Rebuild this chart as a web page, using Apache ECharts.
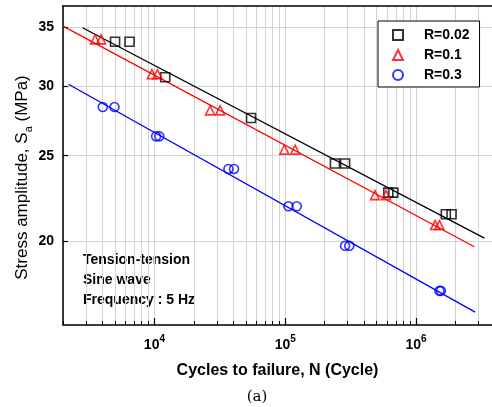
<!DOCTYPE html>
<html>
<head>
<meta charset="utf-8">
<script src="https://cdn.jsdelivr.net/npm/echarts@6/dist/echarts.min.js"></script>
<style>
  html, body { margin: 0; padding: 0; background: #fff; }
  #chart { width: 492px; height: 407px; }
</style>
</head>
<body>
<div id="chart"></div>
<script>
  // measured points: [cycles to failure, stress amplitude (MPa)]
  const r002 = [[5000, 33.7], [6450, 33.7], [12100, 30.7], [54800, 27.6], [240000, 24.5], [287000, 24.5],
    [614000, 22.7], [671000, 22.7], [1690000, 21.45], [1870000, 21.45]]
  const r01 = [[3520, 33.9], [3910, 33.9], [9550, 30.95], [10540, 30.95], [26650, 28.15], [31800, 28.15],
    [98500, 25.4], [119000, 25.4], [486000, 22.55], [590000, 22.55], [1400000, 20.85], [1510000, 20.85]]
  const r03 = [[4030, 28.4], [4950, 28.4], [10300, 26.3], [10900, 26.3], [36800, 24.15], [40600, 24.15],
    [105700, 21.9], [122500, 21.9], [287000, 19.75], [309000, 19.75], [1510000, 17.55], [1550000, 17.55]]
  // fitted S-N lines (two end points each)
  const fit002 = [[2820, 34.95], [3330000, 20.15]]
  const fit01 = [[2000, 35.1], [2790000, 19.7]]
  const fit03 = [[2200, 30.15], [2830000, 16.6]]
  // ticks
  const xMajor = [1e4, 1e5, 1e6]
  const yTicks = [20, 25, 30, 35]

  const L = Math.log10
  const xMin = L(2000), xMax = L(3.81e6)
  const yMin = L(16.05), yMax = L(37)
  const font = '"Liberation Sans", Arial, sans-serif'

  // every k*10^d inside the range -> grid lines + minor ticks
  const xAll = []
  for (let d = 3; d <= 6; d++) {
    for (let k = 1; k <= 9; k++) {
      const v = k * Math.pow(10, d)
      if (v >= 2000 && v <= 3.81e6) xAll.push(L(v))
    }
  }
  const toLog = arr => arr.map(p => [L(p[0]), L(p[1])])
  const axisLine = { show: true, lineStyle: { color: '#000', width: 1.5 } }
  const grid = { color: '#d4d4d4', width: 1 }

  function scatter(name, data, symbol, color) {
    return {
      name: name, type: 'scatter', data: toLog(data), symbol: symbol, symbolSize: 9,
      itemStyle: { color: 'rgba(0,0,0,0)', borderColor: color, borderWidth: 1.6 },
      z: 3
    }
  }
  function fitLine(data, color) {
    return {
      type: 'line', data: toLog(data), showSymbol: false, symbol: 'none',
      lineStyle: { color: color, width: 1.3 }, silent: true, z: 2
    }
  }

  const chart = echarts.init(document.getElementById('chart'))
  chart.setOption({
    animation: false,
    textStyle: { fontFamily: font },
    grid: [
      { left: 63, right: 0, top: 6, bottom: 82, outerBoundsMode: 'none' },
      { left: 63, right: 0, top: 6, bottom: 82, outerBoundsMode: 'none' }
    ],
    xAxis: [
      {
        gridIndex: 0, type: 'value', position: 'bottom', min: xMin, max: xMax,
        axisLine: axisLine,
        axisTick: { inside: true, length: 4, customValues: xAll, lineStyle: { color: '#000', width: 1 } },
        axisLabel: {
          customValues: xMajor.map(L), margin: 9, color: '#000',
          formatter: v => '{b|10}{s|' + Math.round(v) + '}',
          rich: {
            b: { fontSize: 14, fontWeight: 'bold', color: '#000', fontFamily: font, lineHeight: 18, verticalAlign: 'bottom' },
            s: { fontSize: 10, fontWeight: 'bold', color: '#000', fontFamily: font, lineHeight: 18, verticalAlign: 'top' }
          }
        },
        splitLine: { show: true, lineStyle: grid },
        name: 'Cycles to failure, N (Cycle)', nameLocation: 'middle', nameGap: 38,
        nameTextStyle: { fontSize: 16, fontWeight: 'bold', color: '#000', fontFamily: font }
      },
      {
        gridIndex: 0, type: 'value', position: 'top', min: xMin, max: xMax,
        axisLine: axisLine, axisTick: { show: false }, axisLabel: { show: false }, splitLine: { show: false }
      },
      {
        gridIndex: 1, type: 'value', position: 'bottom', min: xMin, max: xMax,
        axisLine: { show: false },
        axisTick: { inside: true, length: 7, customValues: xMajor.map(L), lineStyle: { color: '#000', width: 1.2 } },
        axisLabel: { show: false }, splitLine: { show: false }
      }
    ],
    yAxis: [
      {
        gridIndex: 0, type: 'value', min: yMin, max: yMax,
        axisLine: axisLine,
        axisTick: { inside: true, length: 5, customValues: yTicks.map(L), lineStyle: { color: '#000', width: 1.2 } },
        axisLabel: {
          customValues: yTicks.map(L), margin: 9, color: '#000', fontSize: 14, fontWeight: 'bold', fontFamily: font,
          formatter: v => String(Math.round(Math.pow(10, v)))
        },
        splitLine: { show: true, lineStyle: grid },
        name: 'Stress amplitude, S{sub|a} (MPa)', nameLocation: 'middle', nameGap: 29, nameMoveOverlap: false,
        nameTextStyle: {
          fontSize: 17, color: '#000', fontFamily: font, padding: [0, 24, 0, 0],
          rich: { sub: { fontSize: 11, color: '#000', fontFamily: font, verticalAlign: 'bottom', lineHeight: 24 } }
        }
      },
      { gridIndex: 1, type: 'value', min: yMin, max: yMax, show: false }
    ],
    legend: {
      orient: 'vertical', left: 378, top: 21,
      padding: [6, 10, 4, 14], itemWidth: 10, itemHeight: 10, itemGap: 4,
      borderColor: '#000', borderWidth: 1, backgroundColor: '#fff',
      textStyle: { fontSize: 14, fontWeight: 'bold', color: '#000', fontFamily: font, lineHeight: 16, padding: [0, 0, 0, 16] },
      data: ['R=0.02', 'R=0.1', 'R=0.3']
    },
    graphic: [
      {
        type: 'text', left: 83, top: 250,
        style: {
          text: 'Tension-tension\nSine wave\nFrequency : 5 Hz',
          font: 'bold 14px ' + font, lineHeight: 20, fill: '#000'
        }
      },
      {
        type: 'text', x: 257, y: 397,
        style: { text: '(a)', font: '15px "DejaVu Serif", serif', fill: '#000', textAlign: 'center', textVerticalAlign: 'middle' }
      }
    ],
    series: [
      fitLine(fit002, '#000'),
      fitLine(fit01, '#ff0000'),
      fitLine(fit03, '#0000ff'),
      scatter('R=0.02', r002, 'rect', '#000'),
      scatter('R=0.1', r01, 'triangle', '#ff0000'),
      scatter('R=0.3', r03, 'circle', '#0000ff')
    ]
  })
</script>
</body>
</html>
